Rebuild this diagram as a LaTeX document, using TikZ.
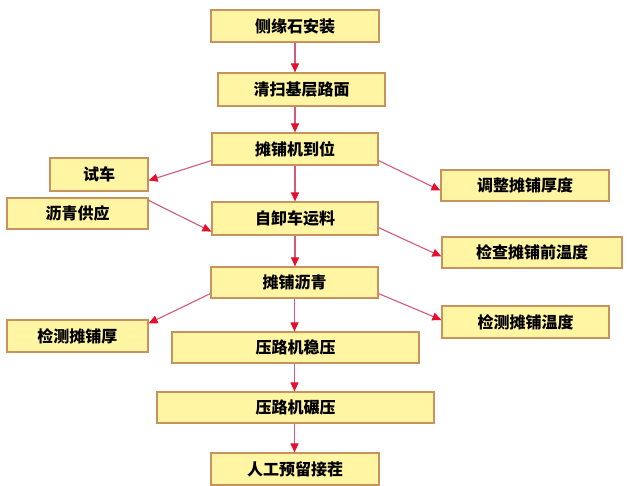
\documentclass[tikz,border=0pt]{standalone}
\usepackage{fontspec}
\newfontfamily\cjk{Noto Sans CJK SC}
\usetikzlibrary{arrows.meta}
\definecolor{boxfill}{HTML}{FFF5A3}
\definecolor{boxline}{HTML}{C8925E}
\definecolor{arrline}{HTML}{D45A7A}
\definecolor{tipred}{HTML}{E5102E}
\begin{document}
\begin{tikzpicture}[x=1pt,y=-1pt,
  box/.style={draw=boxline, fill=boxfill, line width=1.2pt, inner sep=0pt,
    font=\cjk\bfseries\fontsize{16}{18}\selectfont},
  arr/.style={draw=arrline, line width=1.1pt,
    -{Triangle[length=9pt,width=8pt,color=tipred]}}]
\path[fill=white] (0,0) rectangle (627,486);
\useasboundingbox (0,0) rectangle (627,486);

\node[box, minimum width=168pt, minimum height=32pt] (a) at (295,26) {侧缘石安装};
\node[box, minimum width=167pt, minimum height=33pt] (b) at (301.5,89.5) {清扫基层路面};
\node[box, minimum width=166pt, minimum height=32pt] (c) at (295,149) {摊铺机到位};
\node[box, minimum width=98pt, minimum height=33pt] (d) at (99,174.5) {试车};
\node[box, minimum width=168pt, minimum height=31pt] (e) at (525,185.5) {调整摊铺厚度};
\node[box, minimum width=141pt, minimum height=31pt] (f) at (77.5,213.5) {沥青供应};
\node[box, minimum width=166pt, minimum height=33pt] (g) at (295,218.5) {自卸车运料};
\node[box, minimum width=180pt, minimum height=31pt] (h) at (532,252.5) {检查摊铺前温度};
\node[box, minimum width=167pt, minimum height=31pt] (i) at (294.5,282.5) {摊铺沥青};
\node[box, minimum width=141pt, minimum height=32pt] (j) at (77.5,336) {检测摊铺厚};
\node[box, minimum width=167pt, minimum height=32pt] (k) at (525.5,322) {检测摊铺温度};
\node[box, minimum width=247pt, minimum height=31pt] (l) at (295.5,347.5) {压路机稳压};
\node[box, minimum width=277pt, minimum height=31pt] (m) at (295.5,407.5) {压路机碾压};
\node[box, minimum width=168pt, minimum height=32pt] (n) at (295,469) {人工预留接茬};

\draw[arr] (a.south) -- (a.south |- b.north);
\draw[arr] (c.north |- b.south) -- (c.north);
\draw[arr] (c.south) -- (g.north);
\draw[arr] (g.south) -- (g.south |- i.north);
\draw[arr] (i.south) -- (i.south |- l.north);
\draw[arr] (l.south -| i.south) -- (m.north -| i.south);
\draw[arr] (m.south -| i.south) -- (n.north -| i.south);

\draw[arr] ([yshift=5pt]c.south west) -- ([yshift=-6pt]d.east);
\draw[arr] ([yshift=5pt]c.south east) -- ([yshift=-5pt]e.west);
\draw[arr] ([yshift=-3pt]f.north east) -- ([yshift=4pt]g.south west);
\draw[arr] ([yshift=8pt]g.south east) -- ([yshift=-4pt]h.west);
\draw[arr] ([yshift=5pt]i.south west) -- ([yshift=-4pt]j.north east);
\draw[arr] ([yshift=5pt]i.south east) -- ([yshift=2pt]k.west);
\end{tikzpicture}
\end{document}
